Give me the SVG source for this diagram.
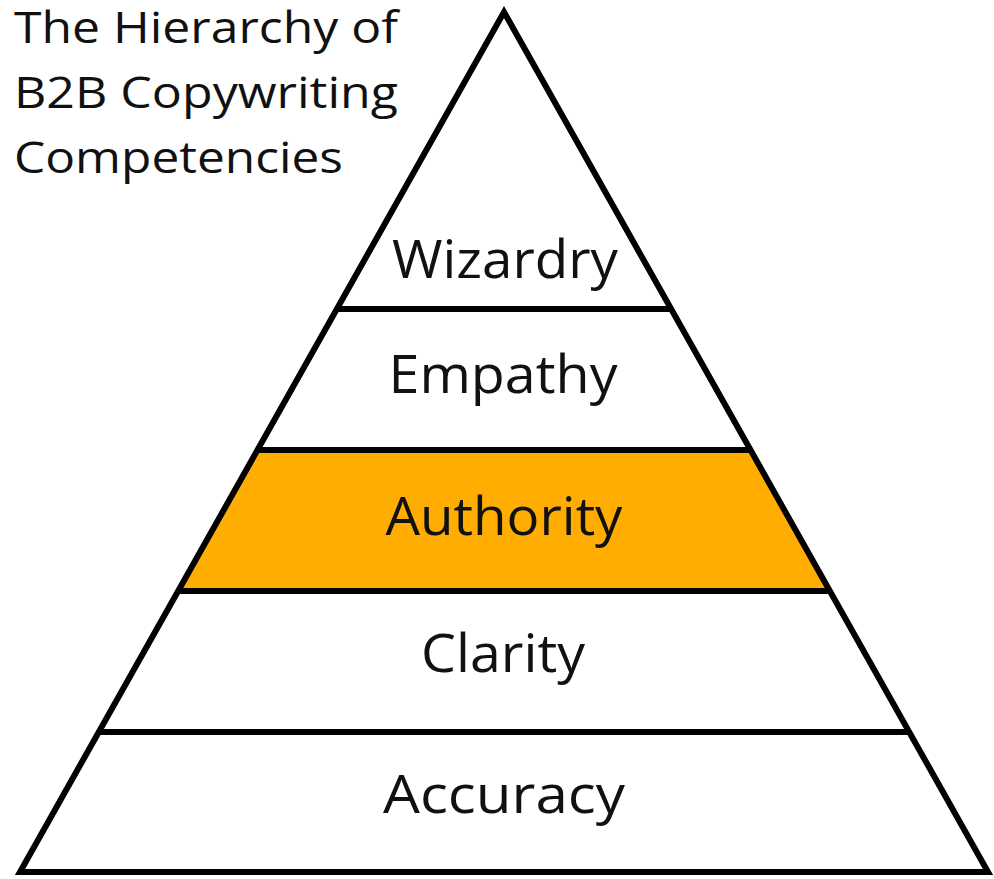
<svg xmlns="http://www.w3.org/2000/svg" width="994" height="879" viewBox="0 0 994 879">
  <style>
    .band { fill: #ffffff; stroke: none; }
    .band.hl { fill: #ffad00; }
    .label { font-family: "Open Sans", "Noto Sans", sans-serif; font-size: 53px; fill: #111111; text-anchor: middle; }
    .title { font-family: "Open Sans", "Noto Sans", sans-serif; font-size: 43px; fill: #111111; }
    .edge { fill: none; stroke: #000000; stroke-width: 6; stroke-linejoin: miter; stroke-miterlimit: 10; }
  </style>
  <rect width="994" height="879" fill="#ffffff"/>

  <!-- title -->
  <g id="title">
    <text class="title" x="14" y="43" textLength="384" lengthAdjust="spacingAndGlyphs">The Hierarchy of</text>
    <text class="title" x="14" y="108" textLength="384" lengthAdjust="spacingAndGlyphs">B2B Copywriting</text>
    <text class="title" x="14" y="173" textLength="329" lengthAdjust="spacingAndGlyphs">Competencies</text>
  </g>

  <!-- pyramid tiers, top to bottom -->
  <g id="wizardry">
    <polygon class="band" points="504,12 671.2,309 336.8,309"/>
    <text class="label" x="505" y="278" textLength="226" lengthAdjust="spacingAndGlyphs">Wizardry</text>
  </g>
  <g id="empathy">
    <polygon class="band" points="336.8,309 671.2,309 750.5,450 257.5,450"/>
    <text class="label" x="503" y="393" textLength="229" lengthAdjust="spacingAndGlyphs">Empathy</text>
  </g>
  <g id="authority">
    <polygon class="band hl" points="257.5,450 750.5,450 829.9,591 178.1,591"/>
    <text class="label" x="504" y="535" textLength="237" lengthAdjust="spacingAndGlyphs">Authority</text>
  </g>
  <g id="clarity">
    <polygon class="band" points="178.1,591 829.9,591 909.2,732 98.8,732"/>
    <text class="label" x="503" y="672" textLength="164" lengthAdjust="spacingAndGlyphs">Clarity</text>
  </g>
  <g id="accuracy">
    <polygon class="band" points="98.8,732 909.2,732 988,872 20,872"/>
    <text class="label" x="504" y="813" textLength="242" lengthAdjust="spacingAndGlyphs">Accuracy</text>
  </g>

  <!-- outline and tier dividers -->
  <g id="connectors">
    <polygon class="edge" points="504,12 988,872 20,872"/>
    <line class="edge" x1="336.8" y1="309" x2="671.2" y2="309"/>
    <line class="edge" x1="257.5" y1="450" x2="750.5" y2="450"/>
    <line class="edge" x1="178.1" y1="591" x2="829.9" y2="591"/>
    <line class="edge" x1="98.8" y1="732" x2="909.2" y2="732"/>
  </g>
</svg>
